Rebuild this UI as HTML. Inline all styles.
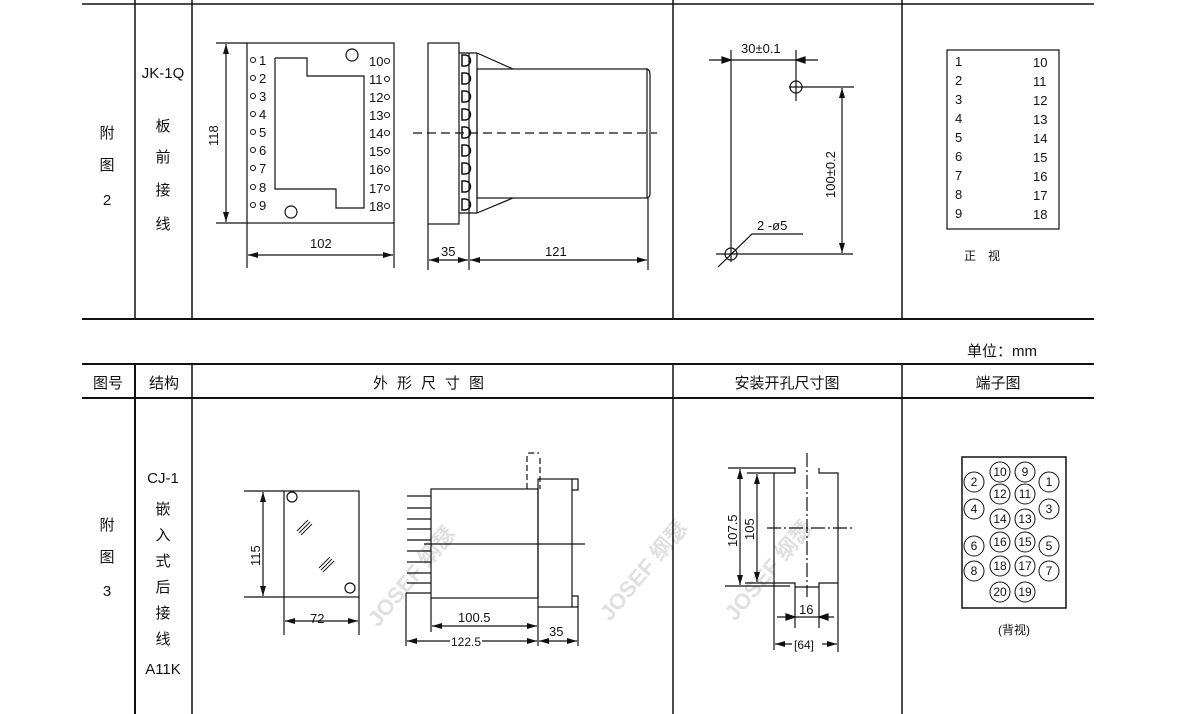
<!DOCTYPE html>
<html><head><meta charset="utf-8"><style>
html,body{margin:0;padding:0;background:#fff;}
svg{display:block;}
text{font-family:"Liberation Sans","Noto Sans CJK SC",sans-serif;fill:#111;}
</style></head><body>
<svg width="1200" height="714" viewBox="0 0 1200 714" xmlns="http://www.w3.org/2000/svg">
<defs>
<marker id="a" viewBox="0 0 10 6" refX="10" refY="3" markerWidth="10" markerHeight="6" orient="auto-start-reverse" markerUnits="userSpaceOnUse"><path d="M0,0 L10,3 L0,6 z" fill="#111"/></marker>
</defs>
<!-- watermarks -->
<g fill="#e2e2e2" font-weight="bold" font-size="22" font-family="Liberation Sans,Noto Sans CJK SC,sans-serif" style="fill:#e0e0e0">
<text x="0" y="0" transform="translate(378,628) rotate(-50)" style="fill:#e0e0e0">JOSEF 纲瑟</text>
<text x="0" y="0" transform="translate(610,622) rotate(-50)" style="fill:#e0e0e0">JOSEF 纲瑟</text>
<text x="0" y="0" transform="translate(735,622) rotate(-50)" style="fill:#e0e0e0">JOSEF 纲瑟</text>
</g>
<!-- table lines -->
<g stroke="#111" fill="none">
<line x1="82" y1="4" x2="1094" y2="4" stroke-width="1.5"/>
<line x1="82" y1="319" x2="1094" y2="319" stroke-width="2"/>
<line x1="82" y1="364" x2="1094" y2="364" stroke-width="2"/>
<line x1="82" y1="398" x2="1094" y2="398" stroke-width="2"/>
<line x1="135" y1="0" x2="135" y2="319" stroke-width="1.5"/>
<line x1="192" y1="0" x2="192" y2="319" stroke-width="1.5"/>
<line x1="673" y1="0" x2="673" y2="319" stroke-width="1.5"/>
<line x1="902" y1="0" x2="902" y2="319" stroke-width="1.5"/>
<line x1="135" y1="364" x2="135" y2="714" stroke-width="2"/>
<line x1="192" y1="364" x2="192" y2="714" stroke-width="1.5"/>
<line x1="673" y1="364" x2="673" y2="714" stroke-width="1.5"/>
<line x1="902" y1="364" x2="902" y2="714" stroke-width="1.5"/>
</g>
<!-- row labels -->
<g font-size="15" text-anchor="middle">
<text x="107" y="138">附</text><text x="107" y="170">图</text><text x="107" y="205">2</text>
<text x="163" y="78">JK-1Q</text>
<text x="163" y="131">板</text><text x="163" y="162">前</text><text x="163" y="195">接</text><text x="163" y="229">线</text>
<text x="107" y="530">附</text><text x="107" y="562">图</text><text x="107" y="596">3</text>
<text x="163" y="483">CJ-1</text>
<text x="163" y="514">嵌</text><text x="163" y="540">入</text><text x="163" y="566">式</text><text x="163" y="592">后</text><text x="163" y="618">接</text><text x="163" y="644">线</text>
<text x="163" y="674">A11K</text>
<text x="108" y="388">图号</text><text x="164" y="388">结构</text>
<text x="433" y="388" letter-spacing="9">外形尺寸图</text>
<text x="787" y="388">安装开孔尺寸图</text>
<text x="998" y="388">端子图</text>
<text x="1002" y="356">单位：mm</text>
</g>

<!-- ===== Top front view ===== -->
<g stroke="#111" fill="none" stroke-width="1.2">
<rect x="247" y="43" width="147" height="180"/>
<polyline points="275,58 307,58 307,76 364,76 364,208 336,208 336,189 275,189 275,58"/>
<circle cx="352" cy="55" r="6"/><circle cx="291" cy="212" r="6"/>
<line x1="216" y1="43" x2="247" y2="43"/><line x1="216" y1="223" x2="247" y2="223"/>
<line x1="226" y1="44" x2="226" y2="222" marker-start="url(#a)" marker-end="url(#a)"/>
<line x1="247" y1="223" x2="247" y2="268"/><line x1="394" y1="223" x2="394" y2="268"/>
<line x1="248" y1="255" x2="393" y2="255" marker-start="url(#a)" marker-end="url(#a)"/>
</g>
<g stroke="#111" fill="none" stroke-width="1">
<circle cx="253" cy="60" r="2.5"/><circle cx="253" cy="78" r="2.5"/><circle cx="253" cy="96" r="2.5"/><circle cx="253" cy="114" r="2.5"/><circle cx="253" cy="132" r="2.5"/><circle cx="253" cy="150" r="2.5"/><circle cx="253" cy="168" r="2.5"/><circle cx="253" cy="187" r="2.5"/><circle cx="253" cy="205" r="2.5"/>
<circle cx="387" cy="61" r="2.5"/><circle cx="387" cy="79" r="2.5"/><circle cx="387" cy="97" r="2.5"/><circle cx="387" cy="115" r="2.5"/><circle cx="387" cy="133" r="2.5"/><circle cx="387" cy="151" r="2.5"/><circle cx="387" cy="169" r="2.5"/><circle cx="387" cy="188" r="2.5"/><circle cx="387" cy="206" r="2.5"/>
</g>
<g font-size="13">
<text x="259" y="65">1</text><text x="259" y="83">2</text><text x="259" y="101">3</text><text x="259" y="119">4</text><text x="259" y="137">5</text><text x="259" y="155">6</text><text x="259" y="173">7</text><text x="259" y="192">8</text><text x="259" y="210">9</text>
<text x="369" y="66">10</text><text x="369" y="84">11</text><text x="369" y="102">12</text><text x="369" y="120">13</text><text x="369" y="138">14</text><text x="369" y="156">15</text><text x="369" y="174">16</text><text x="369" y="193">17</text><text x="369" y="211">18</text>
<text x="0" y="0" transform="translate(218,146) rotate(-90)">118</text>
<text x="310" y="248">102</text>
</g>

<!-- ===== Top side view ===== -->
<g stroke="#111" fill="none" stroke-width="1.2">
<rect x="428" y="43" width="31" height="181"/>
<line x1="469" y1="53" x2="469" y2="213"/>
<line x1="477" y1="53" x2="477" y2="213"/>
<line x1="459" y1="53" x2="477" y2="53"/><line x1="459" y1="213" x2="477" y2="213"/>
<line x1="477" y1="53" x2="513" y2="69"/><line x1="477" y1="213" x2="513" y2="198"/>
<rect x="477" y="69" width="170" height="129"/>
<path d="M647,69 Q650,70 650,74 L650,194 Q650,197 647,198"/>
<line x1="413" y1="133" x2="657" y2="133" stroke-dasharray="9,5"/>
<line x1="428" y1="224" x2="428" y2="270"/><line x1="469" y1="213" x2="469" y2="270"/><line x1="648" y1="198" x2="648" y2="270"/>
<line x1="429" y1="260" x2="468" y2="260" marker-start="url(#a)" marker-end="url(#a)"/>
<line x1="470" y1="260" x2="647" y2="260" marker-start="url(#a)" marker-end="url(#a)"/>
</g>
<g stroke="#111" fill="none" stroke-width="1.5">
<path d="M462,55 h3 a5,5 0 0 1 0,11 h-3 z"/><path d="M462,73 h3 a5,5 0 0 1 0,11 h-3 z"/><path d="M462,91 h3 a5,5 0 0 1 0,11 h-3 z"/><path d="M462,109 h3 a5,5 0 0 1 0,11 h-3 z"/><path d="M462,127 h3 a5,5 0 0 1 0,11 h-3 z"/><path d="M462,145 h3 a5,5 0 0 1 0,11 h-3 z"/><path d="M462,163 h3 a5,5 0 0 1 0,11 h-3 z"/><path d="M462,181 h3 a5,5 0 0 1 0,11 h-3 z"/><path d="M462,199 h3 a5,5 0 0 1 0,11 h-3 z"/>
</g>
<g font-size="13"><text x="441" y="256">35</text><text x="545" y="256">121</text></g>

<!-- ===== Top mounting ===== -->
<g stroke="#111" fill="none" stroke-width="1.2">
<line x1="731" y1="50" x2="731" y2="262"/>
<line x1="796" y1="50" x2="796" y2="101"/>
<line x1="709" y1="60" x2="818" y2="60"/>
<path d="M722,57 L731,60 L722,63 z M805,57 L796,60 L805,63 z" fill="#111"/>
<circle cx="796" cy="87" r="6"/><line x1="789" y1="87" x2="854" y2="87"/>
<circle cx="731" cy="254" r="6"/><line x1="716" y1="254" x2="853" y2="254"/>
<line x1="842" y1="88" x2="842" y2="253" marker-start="url(#a)" marker-end="url(#a)"/>
<polyline points="718,267 752,234 803,234"/>
</g>
<g font-size="13">
<text x="741" y="53">30±0.1</text>
<text x="0" y="0" transform="translate(835,198) rotate(-90)">100±0.2</text>
<text x="757" y="230">2 -ø5</text>
</g>

<!-- ===== Top terminal table ===== -->
<rect x="947" y="50" width="112" height="179" fill="none" stroke="#111" stroke-width="1.2"/>
<g font-size="13">
<text x="955" y="66">1</text><text x="955" y="85">2</text><text x="955" y="104">3</text><text x="955" y="123">4</text><text x="955" y="142">5</text><text x="955" y="161">6</text><text x="955" y="180">7</text><text x="955" y="199">8</text><text x="955" y="218">9</text>
<text x="1033" y="67">10</text><text x="1033" y="86">11</text><text x="1033" y="105">12</text><text x="1033" y="124">13</text><text x="1033" y="143">14</text><text x="1033" y="162">15</text><text x="1033" y="181">16</text><text x="1033" y="200">17</text><text x="1033" y="219">18</text>
<text x="964" y="260" font-size="12">正　视</text>
</g>

<!-- ===== Bottom front view ===== -->
<g stroke="#111" fill="none" stroke-width="1.2">
<rect x="284" y="491" width="75" height="106"/>
<circle cx="292" cy="497" r="5"/><circle cx="350" cy="588" r="5"/>
<line x1="244" y1="491" x2="284" y2="491"/><line x1="244" y1="597" x2="284" y2="597"/>
<line x1="263" y1="492" x2="263" y2="596" marker-start="url(#a)" marker-end="url(#a)"/>
<line x1="284" y1="597" x2="284" y2="635"/><line x1="359" y1="597" x2="359" y2="635"/>
<line x1="285" y1="621" x2="358" y2="621" marker-start="url(#a)" marker-end="url(#a)"/>
<g stroke-width="0.9"><line x1="297" y1="531" x2="308" y2="520"/><line x1="299" y1="533" x2="310" y2="522"/><line x1="301" y1="535" x2="312" y2="524"/>
<line x1="319" y1="568" x2="330" y2="557"/><line x1="321" y1="570" x2="332" y2="559"/><line x1="323" y1="572" x2="334" y2="561"/></g>
</g>
<g font-size="13">
<text x="0" y="0" transform="translate(260,566) rotate(-90)">115</text>
<text x="310" y="623">72</text>
</g>

<!-- ===== Bottom side view ===== -->
<g stroke="#111" fill="none" stroke-width="1.2">
<rect x="431" y="489" width="107" height="109"/>
<rect x="538" y="479" width="34" height="128"/>
<path d="M572,479 h6 v11 h-6 M572,596 h6 v11 h-6"/>
<path d="M527,489 V456 Q527,453 530,453 H539 M540,458 V489" stroke-dasharray="6,3"/>
<line x1="424" y1="544" x2="585" y2="544"/>
<line x1="407" y1="496" x2="431" y2="496"/><line x1="407" y1="508" x2="431" y2="508"/><line x1="407" y1="519" x2="431" y2="519"/><line x1="407" y1="529" x2="431" y2="529"/><line x1="407" y1="540" x2="431" y2="540"/><line x1="407" y1="551" x2="431" y2="551"/><line x1="407" y1="562" x2="431" y2="562"/><line x1="407" y1="573" x2="431" y2="573"/><line x1="407" y1="583" x2="431" y2="583"/><line x1="406" y1="593" x2="431" y2="593"/>
<line x1="406" y1="593" x2="406" y2="646"/><line x1="431" y1="598" x2="431" y2="632"/><line x1="538" y1="607" x2="538" y2="646"/><line x1="578" y1="607" x2="578" y2="646"/>
<line x1="432" y1="626" x2="537" y2="626" marker-start="url(#a)" marker-end="url(#a)"/>
<line x1="407" y1="641" x2="537" y2="641" marker-start="url(#a)" marker-end="url(#a)"/>
<line x1="539" y1="641" x2="577" y2="641" marker-start="url(#a)" marker-end="url(#a)"/>
</g>
<rect x="450" y="634" width="32" height="14" fill="#fff"/>
<g font-size="13">
<text x="458" y="622">100.5</text>
<text x="451" y="646" font-size="12">122.5</text>
<text x="549" y="636">35</text>
</g>

<!-- ===== Bottom mounting ===== -->
<g stroke="#111" fill="none" stroke-width="1.2">
<polyline points="728,468 795,468 795,473 747,473"/>
<polyline points="795,473 795,468"/>
<polyline points="819,468 819,473 838,473 838,583 819,583 819,587 795,587 795,583 745,583"/>
<line x1="725" y1="586" x2="790" y2="586"/>
<line x1="774" y1="473" x2="774" y2="650"/>
<line x1="795" y1="587" x2="795" y2="628"/><line x1="819" y1="587" x2="819" y2="628"/>
<line x1="838" y1="583" x2="838" y2="652"/>
<line x1="807" y1="453" x2="807" y2="597" stroke-dasharray="14,3,2,3"/>
<line x1="767" y1="528" x2="853" y2="528" stroke-dasharray="14,3,2,3"/>
<line x1="740" y1="469" x2="740" y2="585" marker-start="url(#a)" marker-end="url(#a)"/>
<line x1="757" y1="474" x2="757" y2="582" marker-start="url(#a)" marker-end="url(#a)"/>
<line x1="777" y1="617" x2="834" y2="617"/>
<path d="M786,614 L795,617 L786,620 z M828,614 L819,617 L828,620 z" fill="#111"/>
<line x1="775" y1="644" x2="792" y2="644" marker-end="url(#a)" transform="rotate(180 783.5 644)"/>
<line x1="822" y1="644" x2="837" y2="644" marker-end="url(#a)"/>
</g>
<g font-size="13">
<text x="0" y="0" transform="translate(737,547) rotate(-90)">107.5</text>
<text x="0" y="0" transform="translate(754,540) rotate(-90)">105</text>
<text x="799" y="614">16</text>
<text x="794" y="649" font-size="12">[64]</text>
</g>

<!-- ===== Bottom terminal ===== -->
<rect x="962" y="457" width="104" height="151" fill="none" stroke="#111" stroke-width="1.5"/>
<g stroke="#111" fill="none" stroke-width="1">
<circle cx="1000" cy="472" r="10"/><circle cx="1025" cy="472" r="10"/>
<circle cx="974" cy="482" r="10"/><circle cx="1049" cy="482" r="10"/>
<circle cx="1000" cy="494" r="10"/><circle cx="1025" cy="494" r="10"/>
<circle cx="974" cy="509" r="10"/><circle cx="1049" cy="509" r="10"/>
<circle cx="1000" cy="519" r="10"/><circle cx="1025" cy="519" r="10"/>
<circle cx="1000" cy="542" r="10"/><circle cx="1025" cy="542" r="10"/>
<circle cx="974" cy="546" r="10"/><circle cx="1049" cy="546" r="10"/>
<circle cx="1000" cy="566" r="10"/><circle cx="1025" cy="566" r="10"/>
<circle cx="974" cy="571" r="10"/><circle cx="1049" cy="571" r="10"/>
<circle cx="1000" cy="592" r="10"/><circle cx="1025" cy="592" r="10"/>
</g>
<g font-size="12" text-anchor="middle">
<text x="1000" y="476">10</text><text x="1025" y="476">9</text>
<text x="974" y="486">2</text><text x="1049" y="486">1</text>
<text x="1000" y="498">12</text><text x="1025" y="498">11</text>
<text x="974" y="513">4</text><text x="1049" y="513">3</text>
<text x="1000" y="523">14</text><text x="1025" y="523">13</text>
<text x="1000" y="546">16</text><text x="1025" y="546">15</text>
<text x="974" y="550">6</text><text x="1049" y="550">5</text>
<text x="1000" y="570">18</text><text x="1025" y="570">17</text>
<text x="974" y="575">8</text><text x="1049" y="575">7</text>
<text x="1000" y="596">20</text><text x="1025" y="596">19</text>
<text x="1014" y="634">(背视)</text>
</g>
</svg>
</body></html>
